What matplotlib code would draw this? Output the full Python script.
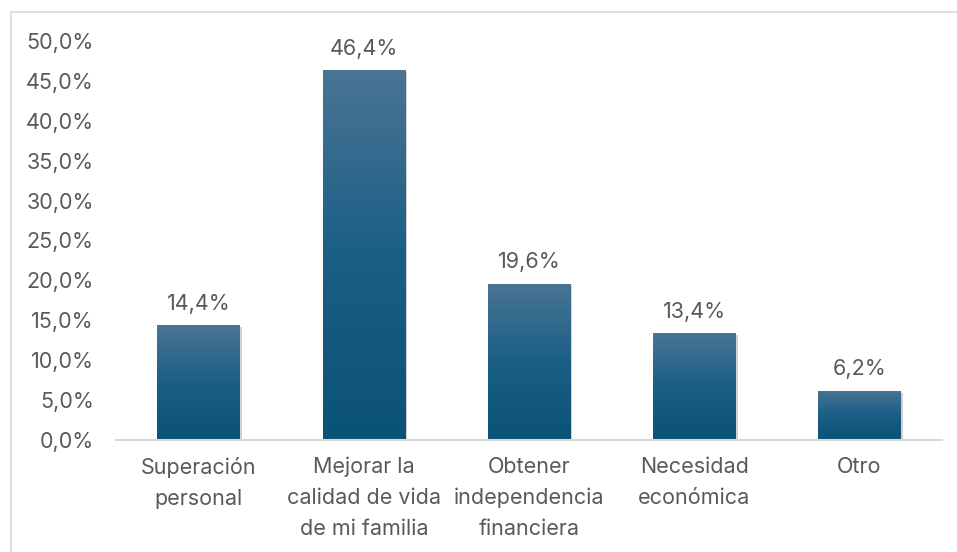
import matplotlib
matplotlib.use("Agg")
import matplotlib.pyplot as plt
import numpy as np
from matplotlib.patches import Rectangle
from matplotlib.colors import LinearSegmentedColormap
import matplotlib.patheffects as pe

categories = ["Superación\npersonal", "Mejorar la\ncalidad de vida\nde mi familia",
              "Obtener\nindependencia\nfinanciera", "Necesidad\neconómica", "Otro"]
values = [14.4, 46.4, 19.6, 13.4, 6.2]
yticks = [0, 5, 10, 15, 20, 25, 30, 35, 40, 45, 50]

plt.rcParams['font.family'] = ['Inter', 'DejaVu Sans']
text_color = "#595959"
fs = 15.5

fig = plt.figure(figsize=(9.57, 5.52), dpi=100)
fig.patches.append(Rectangle((11 / 957, -0.1), 1.0, 1 - 12 / 552 + 0.1,
                             transform=fig.transFigure, fill=False,
                             edgecolor="#d9d9d9", linewidth=1.2))
ax = fig.add_axes([116 / 957, 1 - 440 / 552, 826 / 957, 399 / 552])

x = np.arange(len(values))
width = 0.5
cmap = LinearSegmentedColormap.from_list("bar", ["#0b5277", "#1a5f86", "#4a7494"])
grad = np.linspace(0, 1, 256).reshape(-1, 1)

for xi, v in zip(x, values):
    rect = Rectangle((xi - width / 2, 0), width, v, facecolor="none", edgecolor="none")
    ax.add_patch(rect)
    shadow = Rectangle((xi - width / 2, 0), width, v, facecolor="#0b5277", edgecolor="none",
                       path_effects=[pe.SimplePatchShadow(offset=(1.5, -1.5), shadow_rgbFace="#000000", alpha=0.18),
                                     pe.Normal()])
    ax.add_patch(shadow)
    im = ax.imshow(grad, extent=(xi - width / 2, xi + width / 2, 0, v), origin="lower",
                   cmap=cmap, aspect="auto", zorder=2)
    im.set_clip_path(rect)
    ax.text(xi, v + 1.4, f"{v:.1f}%".replace(".", ","), ha="center", va="bottom",
            fontsize=fs, color=text_color)

ax.set_xlim(-0.5, len(values) - 0.5)
ax.set_ylim(0, 50)
ax.set_yticks(yticks)
ax.set_yticklabels([f"{t:.1f}%".replace(".", ",") for t in yticks])
ax.set_xticks(x)
ax.set_xticklabels(categories, linespacing=1.68)
ax.tick_params(axis="y", length=0, pad=16, labelsize=fs, labelcolor=text_color)
ax.tick_params(axis="x", length=0, pad=12, labelsize=fs, labelcolor=text_color)
for s in ["top", "right", "left"]:
    ax.spines[s].set_visible(False)
ax.spines["bottom"].set_color("#d9d9d9")
ax.spines["bottom"].set_linewidth(1.5)
ax.spines["bottom"].set_zorder(3)
ax.set_facecolor("none")

fig.savefig("out.png", dpi=100)
